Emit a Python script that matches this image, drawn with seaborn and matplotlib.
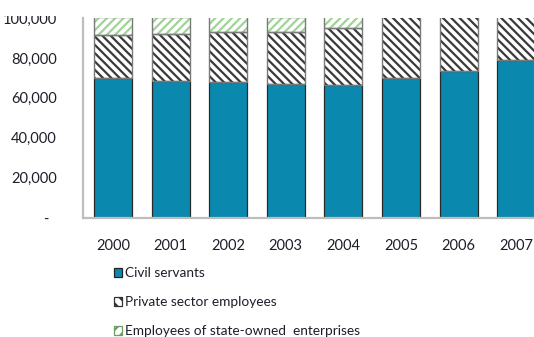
import matplotlib
matplotlib.use("Agg")
import matplotlib.pyplot as plt
from matplotlib.patches import Patch, Rectangle
import seaborn as sns
import pandas as pd

years = ["2000", "2001", "2002", "2003", "2004", "2005", "2006", "2007"]
civil_servants = [70000, 68600, 68000, 67000, 66400, 70000, 73400, 78800]
private_sector = [21500, 23600, 24800, 26000, 28400, 31000, 28000, 24000]
state_owned = [9000, 8500, 8000, 7500, 6000, 0, 0, 0]

y_ticks = [0, 20000, 40000, 60000, 80000, 100000]
y_tick_labels = ["-  ", "20,000", "40,000", "60,000", "80,000", "100,000"]

labels = ["Civil servants", "Private sector employees",
          "Employees of state-owned  enterprises"]

BLUE = "#0A88AE"
GREEN = "#9fd496"
TEXT = "#1e1e2a"

sns.set_style("white")
plt.rcParams["font.family"] = ["Lato", "DejaVu Sans"]
plt.rcParams["hatch.linewidth"] = 1.6

df = pd.DataFrame({"year": years, "civil": civil_servants,
                   "private": private_sector, "soe": state_owned})
df["lvl2"] = df["civil"] + df["private"]
df["lvl3"] = df["lvl2"] + df["soe"]

W, H = 534, 337
fig = plt.figure(figsize=(W / 100, H / 100), dpi=100)
ax = fig.add_axes([83 / W, (H - 217.7) / H, 462 / W, (217.7 - 18) / H])

bw = 0.66
# stacked layers drawn from the tallest total downwards
sns.barplot(data=df, x="year", y="lvl3", order=years, ax=ax, width=bw,
            color="white", edgecolor=GREEN, hatch="////", linewidth=0,
            saturation=1)
sns.barplot(data=df, x="year", y="lvl2", order=years, ax=ax, width=bw,
            color="white", edgecolor="#3a3a3a", hatch="\\\\\\\\", linewidth=0,
            saturation=1)
sns.barplot(data=df, x="year", y="civil", order=years, ax=ax, width=bw,
            color=BLUE, edgecolor="#2a2a2a", linewidth=0.9, saturation=1)

# outlines of the hatched segments
for i in range(len(years)):
    for lo, hi in [(df["civil"][i], df["lvl2"][i]), (df["lvl2"][i], df["lvl3"][i])]:
        if hi > lo:
            ax.add_patch(Rectangle((i - bw / 2, lo), bw, hi - lo, fill=False,
                                   edgecolor="#7a7a7a", linewidth=1.0, zorder=3))

ax.set_xlim(-0.52, 7.5)
ax.set_ylim(0, 100000)
ax.set_yticks(y_ticks)
ax.set_yticklabels(y_tick_labels)
ax.set_xlabel("")
ax.set_ylabel("")
ax.tick_params(axis="y", length=0, pad=19, labelsize=10.5, labelcolor=TEXT)
ax.tick_params(axis="x", length=0, pad=15, labelsize=10.5, labelcolor=TEXT)

for side in ["top", "right"]:
    ax.spines[side].set_visible(False)
for side in ["left", "bottom"]:
    ax.spines[side].set_color("#bdbdbd")
    ax.spines[side].set_linewidth(1.6)

handles = [
    Patch(facecolor=BLUE, edgecolor="#222222", linewidth=0.9),
    Patch(facecolor="white", edgecolor="#333333", hatch="\\\\\\", linewidth=0.9),
    Patch(facecolor="white", edgecolor="#6a9f62", hatch="///", linewidth=0.9),
]
fig.legend(handles, labels, loc="upper left", bbox_to_anchor=(114 / W, 1 - 267 / H),
           frameon=False, fontsize=9.8, labelcolor=TEXT, handlelength=0.62,
           handleheight=0.62, handletextpad=0.2, labelspacing=1.25,
           borderaxespad=0, borderpad=0)

fig.patches.append(Rectangle((0, 1 - 16 / H), 1, 16 / H, transform=fig.transFigure,
                             facecolor="white", edgecolor="none", zorder=10))

fig.savefig("out.png", dpi=100)
